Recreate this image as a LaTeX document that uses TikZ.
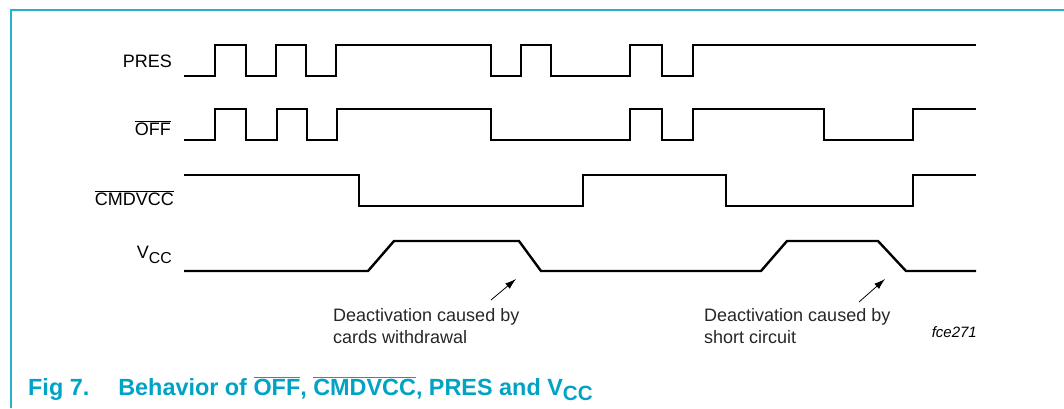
\documentclass[tikz,border=0pt]{standalone}
\usepackage{fontspec}
\setmainfont{Liberation Sans}
\usetikzlibrary{arrows.meta,positioning}

\definecolor{nxpcyan}{RGB}{0,163,196}
\definecolor{framecyan}{RGB}{34,178,202}
\newcommand{\ovl}[1]{$\overline{\mbox{#1}}$}
\newcommand{\lowsub}[2][0.32em]{\raisebox{-#1}{\scalebox{0.88}{#2}}}

\begin{document}
\begin{tikzpicture}[x=1pt,y=-1pt,>={Latex[length=11pt,width=7pt]},
    wave/.style={line width=2.4pt},
    sig/.style={anchor=base east,inner sep=0pt,font=\fontsize{18}{20}\selectfont},
    note/.style={anchor=base west,align=left,inner sep=0pt,text=black!85,
                 font=\fontsize{18}{22}\selectfont}]
\useasboundingbox (0,0) rectangle (1064,408);

% frame
\draw[framecyan,line width=1.5pt] (11,408) -- (11,10) -- (1064,10);

% signal names
\node[sig] (pres) at (172,67) {PRES};
\node[sig] (off) at (171,135) {\ovl{OFF}};
\node[sig] (cmd) at (174,205) {\ovl{CMDVCC}};
\node[sig] (vcc) at (172,258) {V\lowsub{CC}};

% waveforms
\draw[wave] (184,76) -| (215,45) -| (246,76) -| (276,45) -| (306,76)
    -| (336,45) -| (491,76) -| (521,45) -| (551,76) -| (630,45)
    -| (662,76) -| (693,45) -- (976,45);
\draw[wave] (184,140) -| (215,109) -| (246,140) -| (277,109) -| (307,140)
    -| (337,109) -| (491,140) -| (630,109) -| (662,140) -| (693,109)
    -| (824,140) -| (913,109) -- (976,109);
\draw[wave] (184,175) -| (359,206) -| (583,175) -| (726,206) -| (913,175)
    -- (976,175);
\draw[wave] (184,271) -- (368,271) -- (394,241) -- (519,241) -- (541,271)
    -- (761,271) -- (787,241) -- (878,241) -- (906,271) -- (976,271);

% deactivation notes
\coordinate (tip1) at (516,279);
\coordinate (tail1) at (491,300);
\coordinate (tip2) at (885,279);
\coordinate (tail2) at (859,302);
\draw[->,line width=0.8pt] (tail1) -- (tip1);
\draw[->,line width=0.8pt] (tail2) -- (tip2);
\node[note] (note1) at (333,343) {Deactivation caused by\\cards withdrawal};
\node[note] (note2) at (704,343) {Deactivation caused by\\short circuit};
\node[anchor=base east,inner sep=0pt,font=\itshape\fontsize{15}{18}\selectfont]
    (figid) at (977,337) {fce271};

% caption
\node[anchor=base west,inner sep=0pt,text=nxpcyan,
      font=\bfseries\fontsize{23.4}{26}\selectfont]
    (cap) at (28,395) {Fig 7.\hspace{29pt}Behavior of \ovl{OFF}, \ovl{CMDVCC}, PRES and V\lowsub[0.22em]{CC}};
\end{tikzpicture}
\end{document}
